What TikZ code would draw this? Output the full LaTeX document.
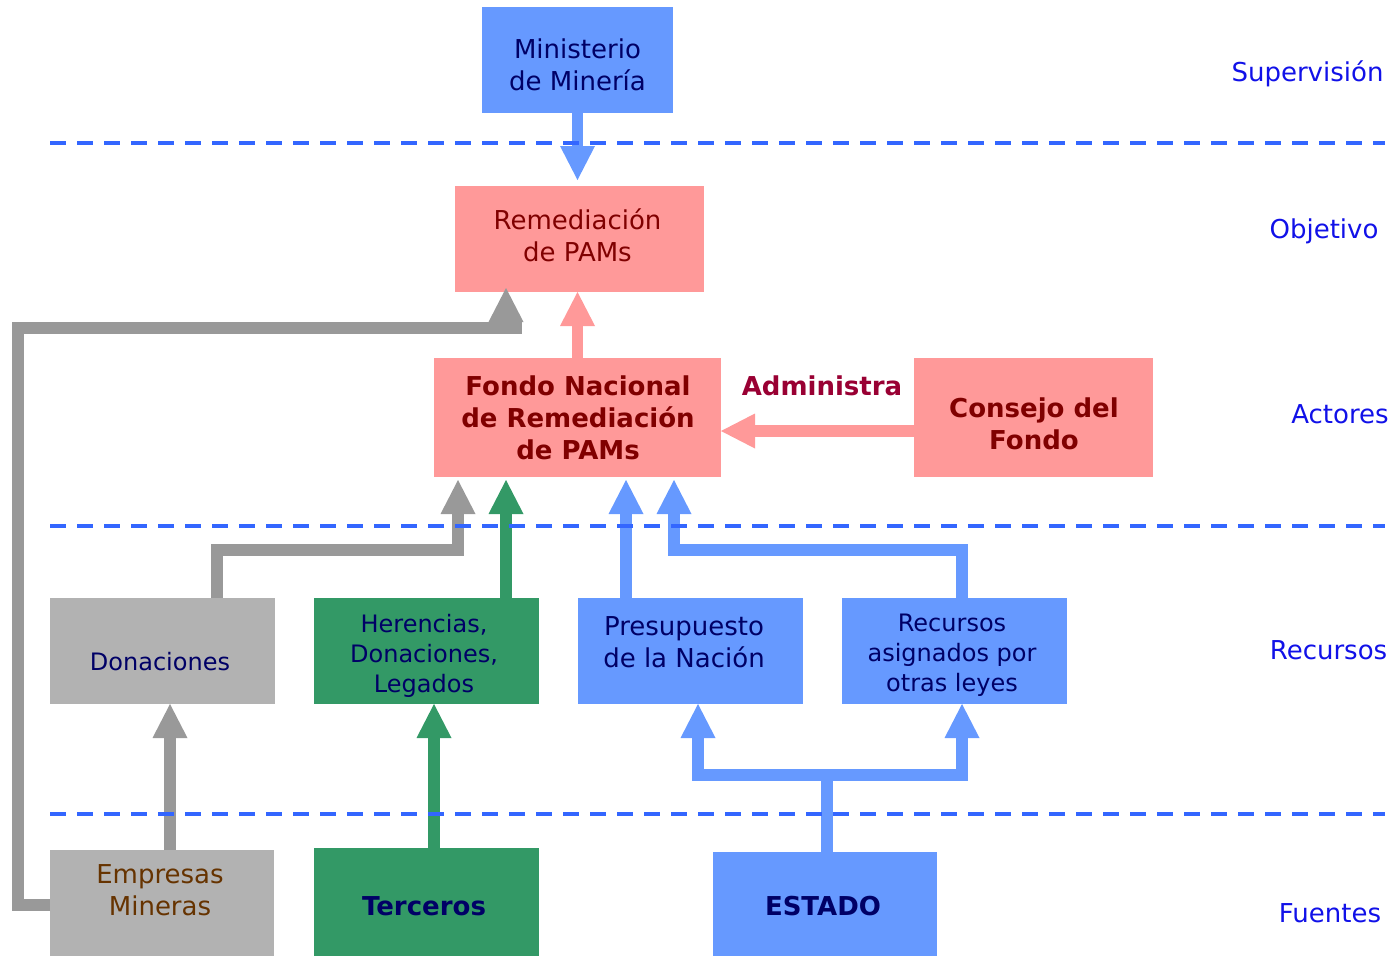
\documentclass[tikz,border=0pt]{standalone}
\usepackage{fontspec}
\setmainfont{DejaVu Sans}
\usetikzlibrary{arrows.meta}

\definecolor{cBlue}{HTML}{6699FF}
\definecolor{cPink}{HTML}{FF9999}
\definecolor{cGreen}{HTML}{339966}
\definecolor{cGrayBox}{HTML}{B2B2B2}
\definecolor{cGrayArr}{HTML}{999999}
\definecolor{cNavy}{HTML}{000066}
\definecolor{cDarkRed}{HTML}{800000}
\definecolor{cWine}{HTML}{990033}
\definecolor{cBrown}{HTML}{663300}
\definecolor{cSep}{HTML}{3366FF}
\definecolor{cLevel}{HTML}{1111E8}

\begin{document}
\begin{tikzpicture}[x=0.5pt,y=-0.5pt,
  box/.style={rectangle, inner sep=0pt, outer sep=0pt, draw=none},
  txt/.style={inner sep=0pt, align=center, font=\fontsize{13}{16}\selectfont},
  txtsmall/.style={inner sep=0pt, align=center, font=\fontsize{12}{15}\selectfont},
  txtbold/.style={inner sep=0pt, align=center, font=\fontsize{13}{16}\selectfont\bfseries},
  oneline/.style={text height=0.76em, text depth=0.24em},
  level/.style={inner sep=0pt, font=\fontsize{13}{16}\selectfont, text=cLevel, oneline},
  flow/.style={line width=5.75pt, line join=miter,
    -{Triangle[length=17pt,width=17.5pt,line width=0pt]}},
  flowline/.style={line width=5.75pt, line join=miter},
  sepline/.style={line width=2pt, cSep, dash pattern=on 8pt off 5.5pt}
]
\useasboundingbox (0,0) rectangle (1397,958);

% ---- boxes ----
\node[box, fill=cBlue, minimum width=95.5pt, minimum height=53pt] (min) at (577.5,60) {};
\node[box, fill=cPink, minimum width=124.5pt, minimum height=53pt] (rem) at (579.5,239) {};
\node[box, fill=cPink, minimum width=143.5pt, minimum height=59.5pt] (fon) at (577.5,417.5) {};
\node[box, fill=cPink, minimum width=119.5pt, minimum height=59.5pt] (con) at (1033.5,417.5) {};
\node[box, fill=cGrayBox, minimum width=112.5pt, minimum height=53pt] (don) at (162.5,651) {};
\node[box, fill=cGreen, minimum width=112.5pt, minimum height=53pt] (her) at (426.5,651) {};
\node[box, fill=cBlue, minimum width=112.5pt, minimum height=53pt] (pre) at (690.5,651) {};
\node[box, fill=cBlue, minimum width=112.5pt, minimum height=53pt] (rec) at (954.5,651) {};
\node[box, fill=cGrayBox, minimum width=112pt, minimum height=53pt] (emp) at (162,903) {};
\node[box, fill=cGreen, minimum width=112.5pt, minimum height=54pt] (ter) at (426.5,902) {};
\node[box, fill=cBlue, minimum width=112pt, minimum height=52pt] (est) at (825,904) {};

% ---- box texts ----
\node[txt, text=cNavy] (minT) at (577.5,65) {Ministerio\\de Minería};
\node[txt, text=cDarkRed] (remT) at (577.5,235) {Remediación\\de PAMs};
\node[txtbold, text=cDarkRed] (fonT) at (578,417.5) {Fondo Nacional\\de Remediación\\de PAMs};
\node[txtbold, text=cDarkRed] (conT) at (1034,423.5) {Consejo del\\Fondo};
\node[txtsmall, text=cNavy, oneline] (donT) at (160,665) {Donaciones};
\node[txtsmall, text=cNavy] (herT) at (424,655.5) {Herencias,\\Donaciones,\\Legados};
\node[txt, text=cNavy] (preT) at (684,642) {Presupuesto\\de la Nación};
\node[txtsmall, text=cNavy] (recT) at (952,655) {Recursos\\asignados por\\otras leyes};
\node[txt, text=cBrown] (empT) at (160,890) {Empresas\\Mineras};
\node[txtbold, text=cNavy, oneline] (terT) at (424,910) {Terceros};
\node[txtbold, text=cNavy, oneline] (estT) at (823,910) {ESTADO};
\node[txtbold, text=cWine, oneline] (adm) at (822,390) {Administra};

% ---- level labels ----
\node[level] (lSup) at (1307.5,76) {Supervisión};
\node[level] (lObj) at (1324,233) {Objetivo};
\node[level] (lAct) at (1340,418) {Actores};
\node[level] (lRec) at (1328.5,654) {Recursos};
\node[level] (lFue) at (1330,917) {Fuentes};

% ---- bend points ----
\coordinate (g1) at (18,328);
\coordinate (g2) at (522,328);
\coordinate (g3) at (506,328);
\coordinate (g4) at (g3 |- rem.south);
\coordinate (d1) at (217,550);
\coordinate (d2) at (458,550);
\coordinate (hx) at (506,598);
\coordinate (px) at (626,598);
\coordinate (r1) at (962,550);
\coordinate (r2) at (674,550);
\coordinate (ex) at (170,850);
\coordinate (tx) at (434,850);
\coordinate (e0) at (827,775);
\coordinate (e1) at (698,775);
\coordinate (e2) at (962,775);

% ---- connectors ----
\draw[flow, cBlue, shorten >=3pt] (min.south) -- (min.south |- rem.north);
\draw[flow, cPink] (fon.north) -- (fon.north |- rem.south);
\draw[flow, cPink] ([yshift=-6.75pt]con.west) -- ([yshift=-6.75pt]fon.east);
\draw[flowline, cGrayArr] ([yshift=-1pt]emp.west) -| (g1) -- (g2);
\draw[flow, cGrayArr] (g3) -- ([yshift=2pt]g4);
\draw[flow, cGrayArr, shorten >=1.5pt] (don.north -| d1) -- (d1) -- (d2) -- (d2 |- fon.south);
\draw[flow, cGreen, shorten >=1.5pt] (hx) -- (hx |- fon.south);
\draw[flow, cBlue, shorten >=1.5pt] (px) -- (px |- fon.south);
\draw[flow, cBlue, shorten >=1.5pt] (rec.north -| r1) -- (r1) -- (r2) -- (r2 |- fon.south);
\draw[flow, cGrayArr] (ex) -- (ex |- don.south);
\draw[flow, cGreen] (tx) -- (tx |- her.south);
\draw[flowline, cBlue] (est.north -| e0) -- (e0);
\draw[flow, cBlue] (e0) -- (e1) -- (e1 |- pre.south);
\draw[flow, cBlue] (e0) -- (e2) -- (e2 |- rec.south);

% ---- level separators ----
\draw[sepline] (50,143) -- (1385,143);
\draw[sepline] (50,526) -- (1385,526);
\draw[sepline] (50,814) -- (1385,814);
\end{tikzpicture}
\end{document}
